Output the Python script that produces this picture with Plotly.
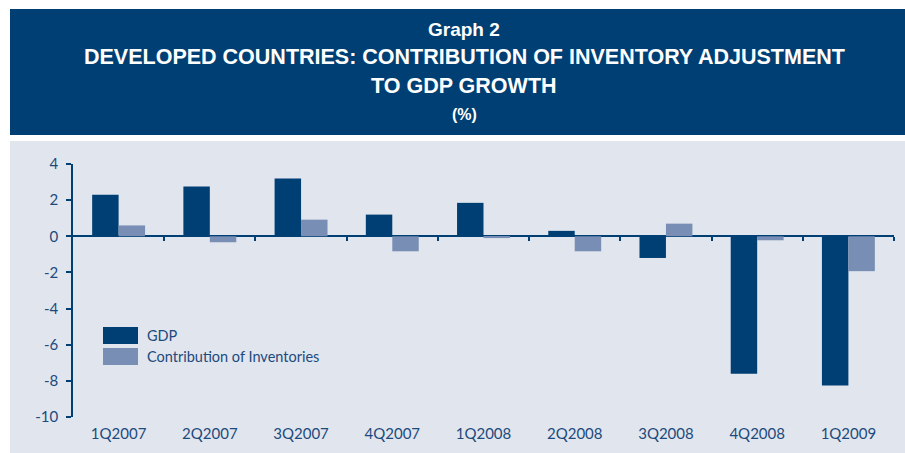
import plotly.graph_objects as go

categories = ["1Q2007", "2Q2007", "3Q2007", "4Q2007", "1Q2008", "2Q2008", "3Q2008", "4Q2008", "1Q2009"]
gdp = [2.3, 2.75, 3.2, 1.2, 1.85, 0.3, -1.2, -7.6, -8.25]
inventories = [0.6, -0.33, 0.92, -0.83, -0.1, -0.83, 0.7, -0.22, -1.93]
y_ticks = [4, 2, 0, -2, -4, -6, -8, -10]
y_tick_labels = ["4", "2", "0", "-2", "-4", "-6", "-8", "-10"]
y_range = [-10, 4]

DARK = "#003F74"
LIGHT = "#788EB4"
BG = "#E1E5EE"
TXT = "#1C4A7C"

W, H = 905, 453
L, R, T, B = 73, 11, 164, 36
PW, PH = W - L - R, H - T - B


def px(x):
    return (x - L) / PW


def py(y):
    return (H - B - y) / PH


fig = go.Figure()
fig.add_trace(go.Bar(x=categories, y=gdp, name="GDP", marker=dict(color=DARK, line=dict(width=0))))
fig.add_trace(go.Bar(x=categories, y=inventories, name="Contribution of Inventories",
                     marker=dict(color=LIGHT, line=dict(width=0))))
# helper trace for the tick axis on the zero line
fig.add_trace(go.Scatter(x=[], y=[], xaxis="x2", showlegend=False, hoverinfo="skip"))

n = len(categories)
zero_pos = (0 - y_range[0]) / (y_range[1] - y_range[0])

fig.update_layout(
    width=W, height=H,
    margin=dict(l=L, r=R, t=T, b=B, pad=0),
    paper_bgcolor="white",
    plot_bgcolor="rgba(0,0,0,0)",
    barmode="group", bargap=0.42, bargroupgap=0,
    showlegend=False,
    font=dict(family="Lato, 'Open Sans', sans-serif", color=TXT, size=15),
    xaxis=dict(type="category", showline=False, ticks="", showgrid=False, zeroline=False,
               tickfont=dict(size=15, color=TXT), ticklabelstandoff=6),
    xaxis2=dict(overlaying="x", anchor="free", position=zero_pos, range=[-0.5, n - 0.5],
                tickmode="array", tickvals=[i + 0.5 for i in range(n)], ticks="outside",
                ticklen=4, tickwidth=1.5, tickcolor=DARK, showticklabels=False,
                showline=False, showgrid=False, zeroline=False),
    yaxis=dict(range=y_range, tickmode="array", tickvals=y_ticks, ticktext=y_tick_labels,
               ticks="outside", ticklen=5,
               tickwidth=1.5, tickcolor=DARK, showline=True, linecolor=DARK, linewidth=1.5,
               showgrid=False, zeroline=True, zerolinecolor=DARK, zerolinewidth=1.5,
               tickfont=dict(size=15, color=TXT), ticklabelstandoff=5),
)

shapes = [
    dict(type="rect", xref="paper", yref="paper", x0=px(10), x1=px(905), y0=py(135), y1=py(9),
         fillcolor=DARK, line=dict(width=0), layer="below"),
    dict(type="rect", xref="paper", yref="paper", x0=px(10), x1=px(905), y0=py(453), y1=py(141),
         fillcolor=BG, line=dict(width=0), layer="below"),
    dict(type="rect", xref="paper", yref="paper", x0=px(103), x1=px(138), y0=py(344), y1=py(327),
         fillcolor=DARK, line=dict(width=0)),
    dict(type="rect", xref="paper", yref="paper", x0=px(103), x1=px(138), y0=py(365), y1=py(348),
         fillcolor=LIGHT, line=dict(width=0)),
]
fig.update_layout(shapes=shapes)

TF = "'Liberation Sans Narrow', 'Liberation Sans', Arial, sans-serif"
title_lines = [
    ("<b>Graph 2</b>", 29, 19),
    ("<b>DEVELOPED COUNTRIES: CONTRIBUTION OF INVENTORY ADJUSTMENT</b>", 57, 21.5),
    ("<b>TO GDP GROWTH</b>", 86, 21.5),
    ("<b>(%)</b>", 114, 16),
]
anns = []
for text, yc, size in title_lines:
    anns.append(dict(text=text, xref="paper", yref="paper", x=px(464), y=py(yc),
                     xanchor="center", yanchor="middle", showarrow=False,
                     font=dict(family=TF, size=size, color="white")))
for text, yc in [("GDP", 335), ("Contribution of Inventories", 356)]:
    anns.append(dict(text=text, xref="paper", yref="paper", x=px(145), y=py(yc),
                     xanchor="left", yanchor="middle", showarrow=False,
                     font=dict(size=14.5, color=TXT)))
fig.update_layout(annotations=anns)

fig.write_html("out.html")
